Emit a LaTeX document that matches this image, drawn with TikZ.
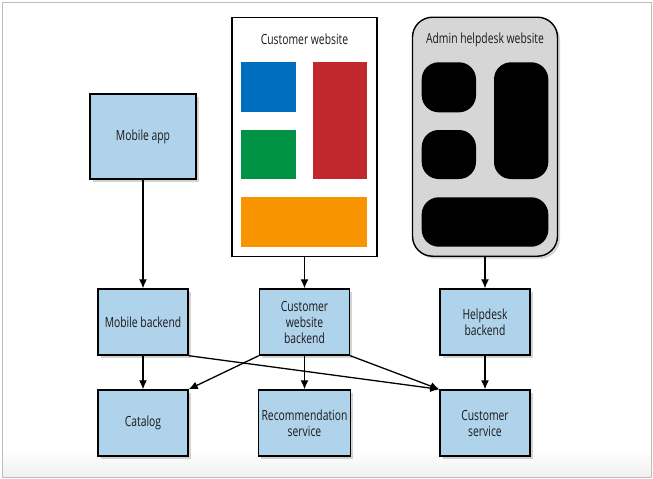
\documentclass[tikz,border=0pt]{standalone}
\usepackage{fontspec}
\setmainfont{Open Sans}[FakeStretch=0.74]
\usepackage{xcolor}
\usepackage{tikz}
\usetikzlibrary{arrows.meta,shadows}
\definecolor{frame}{HTML}{BDBDBD}
\definecolor{svcblue}{HTML}{B0D3EC}
\definecolor{admingray}{HTML}{D6D6D6}
\definecolor{ink}{HTML}{1A1A1A}
\definecolor{wblue}{HTML}{006EBF}
\definecolor{wred}{HTML}{C1272D}
\definecolor{wgreen}{HTML}{009245}
\definecolor{worange}{HTML}{F79400}
\tikzset{
  svc/.style={draw=black, fill=svcblue, line width=1.4pt, minimum width=90pt, minimum height=66pt,
    align=center, text=ink, font=\fontsize{14}{16}\selectfont,
    drop shadow={shadow xshift=2.5pt, shadow yshift=-2.5pt, opacity=0.35}},
  site/.style={draw=black, line width=1.4pt, minimum width=145pt, minimum height=239pt},
  ttl/.style={text=ink, font=\fontsize{14}{16}\selectfont},
  blob/.style={fill=black, rounded corners=17pt},
  conn/.style={draw=black, line width=1.3pt, -{Latex[length=9pt,width=8pt]}}
}
\begin{document}
\begin{tikzpicture}[x=1pt,y=-1pt]
  \useasboundingbox (0,0) rectangle (653,479);
  \shade[top color=white, bottom color=black!6] (2,450) rectangle (651,477);
  \draw[frame, line width=1pt] (2,2) rectangle (651,477);

  % front ends
  \node[svc, minimum width=106pt, minimum height=85pt] (app) at (143,136.5) {Mobile app};
  \node[site, fill=white] (web) at (304.5,136.7) {};
  \node[site, fill=admingray, rounded corners=20pt,
    drop shadow={shadow xshift=2.5pt, shadow yshift=-2.5pt, opacity=0.35}] (admin) at (485,136.7) {};
  \node[ttl] at (304.5,39.5) {Customer website};
  \node[ttl] at (485,39.5) {Admin helpdesk website};

  \fill[wblue] (240.7,62.3) rectangle (295.7,112.3);
  \fill[wred] (313.3,62.3) rectangle (367.3,179);
  \fill[wgreen] (240.7,130) rectangle (295.7,179);
  \fill[worange] (240.7,197.3) rectangle (367.3,246.7);

  \fill[blob] (421.7,62.3) rectangle (476,112.3);
  \fill[blob] (494,62.3) rectangle (548.3,179);
  \fill[blob] (421.7,130) rectangle (476,179);
  \fill[blob] (421.7,197.3) rectangle (548.3,246.7);

  % backends and services
  \node[svc] (mback) at (143,322) {Mobile backend};
  \node[svc] (wback) at (304.5,322) {Customer\\website\\backend};
  \node[svc] (hback) at (485,322) {Helpdesk\\backend};
  \node[svc] (catalog) at (143,423) {Catalog};
  \node[svc] (recom) at (304.5,423) {Recommendation\\service};
  \node[svc] (cust) at (485,423) {Customer\\service};

  \draw[conn] (app.south) -- (mback.north);
  \draw[conn] (web.south) -- (wback.north);
  \draw[conn] (admin.south) -- (hback.north);
  \draw[conn] (mback) -- (catalog);
  \draw[conn] (wback) -- (recom);
  \draw[conn] (hback) -- (cust);
  \draw[conn] (mback.south east) -- (cust.north west);
  \draw[conn] (wback.south west) -- (catalog.north east);
  \draw[conn] (wback.south east) -- (cust.north west);
\end{tikzpicture}
\end{document}
